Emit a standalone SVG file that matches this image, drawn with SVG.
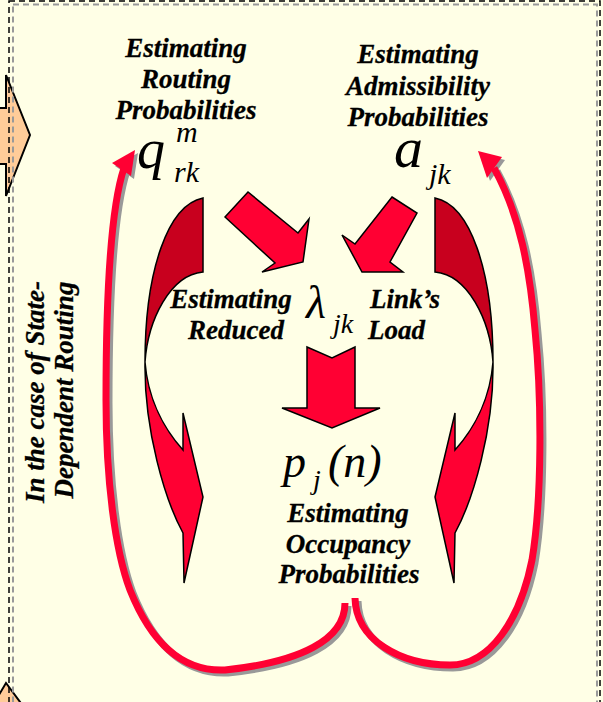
<svg xmlns="http://www.w3.org/2000/svg" width="603" height="702" viewBox="0 0 603 702">
<style>
.t{font-family:"Liberation Serif","Times New Roman",serif;font-weight:bold;font-style:italic;font-size:27px;fill:#000;stroke:#000;stroke-width:0.3}
.m{font-family:"Liberation Serif","Times New Roman",serif;font-style:italic;fill:#000}
.blk{fill:#FF0033;stroke:#000;stroke-width:1.5;stroke-linejoin:miter}
.dark{fill:#C8001E;stroke:#000;stroke-width:1.5}
.loop{fill:none;stroke:#FF0033;stroke-width:7}
.shadow{fill:none;stroke:#999999;stroke-width:7}
.org{fill:#FFCC99;stroke:#000;stroke-width:2}
</style>
<rect x="0" y="0" width="603" height="702" fill="#FFFFE6"/>
<g id="side-arrows">
<polygon class="org" points="-5,108 6,108 6,75 30,135 6,196 6,164 -5,164"/>
<polygon class="org" points="-10,710 6,683 26,710"/>
</g>
<g id="frame">
<rect x="13" y="4.5" width="584" height="720" fill="none" stroke="#999999" stroke-width="2" stroke-dasharray="6,4"/>
<rect x="9" y="1" width="591" height="720" fill="none" stroke="#000" stroke-width="1.5" stroke-dasharray="6,4"/>
</g>
<g id="side-label">
<text class="t" transform="translate(44,392) rotate(-90)" text-anchor="middle">In the case of State-</text>
<text class="t" transform="translate(73,390) rotate(-90)" text-anchor="middle">Dependent Routing</text>
</g>
<g id="routing">
<text class="t" x="186" y="57" text-anchor="middle">Estimating</text>
<text class="t" x="186" y="88" text-anchor="middle">Routing</text>
<text class="t" x="186" y="119" text-anchor="middle">Probabilities</text>
<text class="m" x="137" y="168" font-size="56">q</text>
<text class="m" x="176" y="142" font-size="30">m</text>
<text class="m" x="174" y="182" font-size="30">rk</text>
</g>
<g id="admissibility">
<text class="t" x="418" y="63" text-anchor="middle">Estimating</text>
<text class="t" x="418" y="95" text-anchor="middle">Admissibility</text>
<text class="t" x="418" y="126" text-anchor="middle">Probabilities</text>
<text class="m" x="394" y="167" font-size="58">a</text>
<text class="m" x="429" y="184" font-size="30">jk</text>
</g>
<g id="load">
<text class="t" x="231" y="308" text-anchor="middle">Estimating</text>
<text class="t" x="236" y="339" text-anchor="middle">Reduced</text>
<text class="m" x="306" y="318" font-size="46">λ</text>
<text class="m" x="333" y="333" font-size="28">jk</text>
<text class="t" x="370" y="308">Link’s</text>
<text class="t" x="368" y="339">Load</text>
</g>
<g id="occupancy">
<text class="m" x="283" y="477" font-size="46">p</text>
<text class="m" x="313" y="489" font-size="28">j</text>
<text class="m" x="328" y="477" font-size="46">(n)</text>
<text class="t" x="348" y="522" text-anchor="middle">Estimating</text>
<text class="t" x="348" y="553" text-anchor="middle">Occupancy</text>
<text class="t" x="349" y="583" text-anchor="middle">Probabilities</text>
</g>
<g id="connectors">
<polygon class="blk" points="225,217 248,192 298,233 309,219 303,262 262,272 275,263"/>
<polygon class="blk" points="392,197 417,213 390,262 403,272 362,272 342,235 355,244"/>
<polygon class="blk" points="307,347 332,358 355,347 355,408 380,408 332,428 282,408 307,408"/>
<g id="curved-left">
<path class="dark" d="M203,198 C168,205 145,270 145,362 C148,320 170,275 203,272 Z"/>
<path class="blk" d="M145,362 C144,430 165,500 183,533 L184,583 L203,497 L183,413 L183,450 C165,430 148,400 145,362 Z"/>
</g>
<g id="curved-right" transform="translate(638,0) scale(-1,1)">
<path class="dark" d="M203,198 C168,205 145,270 145,362 C148,320 170,275 203,272 Z"/>
<path class="blk" d="M145,362 C144,430 165,500 183,533 L184,583 L203,497 L183,413 L183,450 C165,430 148,400 145,362 Z"/>
</g>
<g id="loop-left">
<g transform="translate(3,3)">
<path class="shadow" d="M345,603 C345,640 300,662 225,670 C180,672 150,640 130,590 C115,550 106,480 106,400 C106,300 110,210 124,168"/>
<polygon fill="#999999" points="135,150 112,163 131,176"/>
</g>
<path class="loop" d="M345,603 C345,640 300,662 225,670 C180,672 150,640 130,590 C115,550 106,480 106,400 C106,300 110,210 124,168"/>
<polygon fill="#FF0033" points="135,150 112,163 131,176"/>
</g>
<g id="loop-right">
<g transform="translate(3,3)">
<path class="shadow" d="M355,598 C356,640 400,665 450,665 C490,665 520,620 532,560 C542,500 542,400 535,330 C530,270 520,215 494,168"/>
<polygon fill="#999999" points="478,151 502,157 487,178"/>
</g>
<path class="loop" d="M355,598 C356,640 400,665 450,665 C490,665 520,620 532,560 C542,500 542,400 535,330 C530,270 520,215 494,168"/>
<polygon fill="#FF0033" points="478,151 502,157 487,178"/>
</g>
</g>
</svg>
